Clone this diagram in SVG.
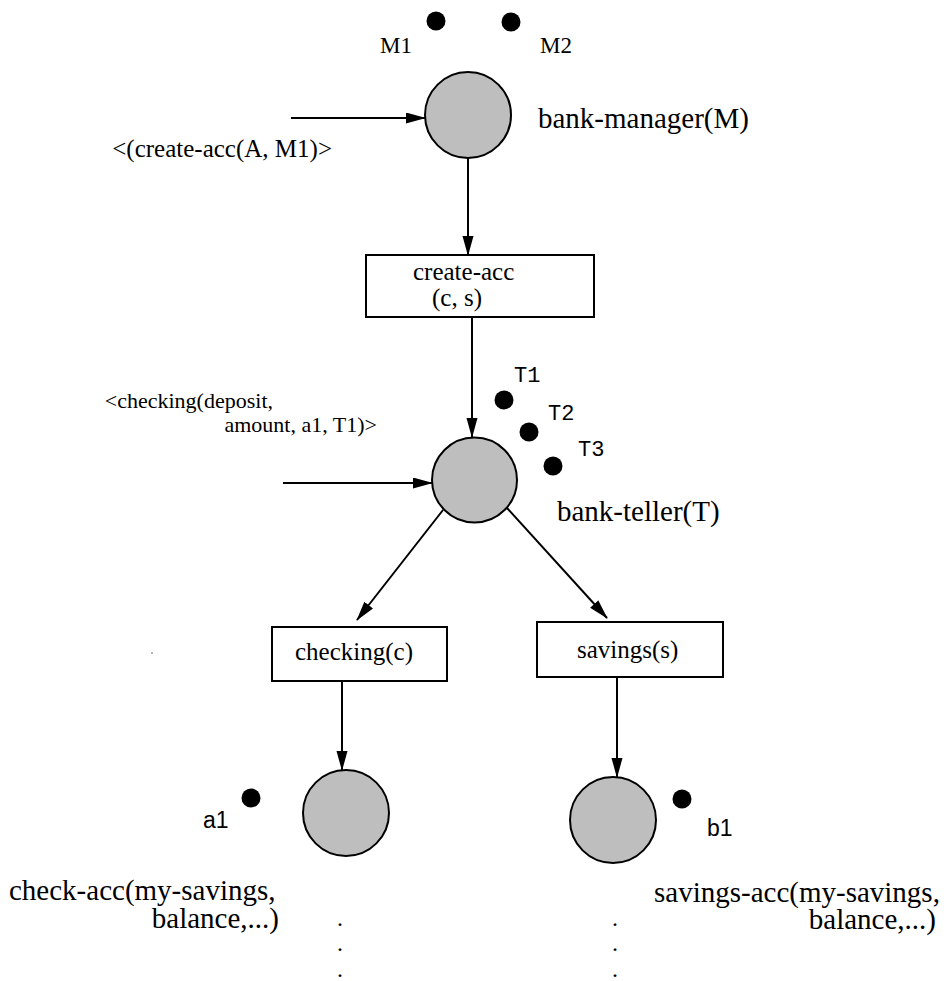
<svg xmlns="http://www.w3.org/2000/svg" width="950" height="981" viewBox="0 0 950 981">
<style>
.bg{fill:#ffffff}
.place{fill:#bebebe;stroke:#000;stroke-width:2}
.tok{fill:#000}
.box{fill:#fff;stroke:#000;stroke-width:2}
.edge{stroke:#000;stroke-width:2;fill:none;marker-end:url(#ah)}
.serif{font-family:"Liberation Serif","Times New Roman",serif;fill:#000}
.mono{font-family:"Liberation Mono","Courier New",monospace;fill:#000}
.sans{font-family:"Liberation Sans",Arial,sans-serif;fill:#000}
.big{font-size:29px}
.mid{font-size:25px}
</style>
<defs>
<marker id="ah" markerUnits="userSpaceOnUse" markerWidth="20" markerHeight="12" refX="19" refY="5.5" orient="auto">
<path d="M0,0 L20,5.5 L0,11 z" fill="#000"/>
</marker>
</defs>
<rect class="bg" x="0" y="0" width="950" height="981"/>

<g id="connectors">
<line class="edge" x1="291" y1="118" x2="425" y2="118"/>
<line class="edge" x1="468" y1="158" x2="468" y2="255"/>
<line class="edge" x1="472" y1="317" x2="472" y2="437"/>
<line class="edge" x1="283" y1="483" x2="432" y2="483"/>
<line class="edge" x1="443" y1="510" x2="357" y2="620"/>
<line class="edge" x1="507" y1="508" x2="607" y2="618"/>
<line class="edge" x1="342" y1="681" x2="342" y2="770"/>
<line class="edge" x1="617" y1="677" x2="617" y2="777"/>
<text class="serif mid" x="332" y="157" text-anchor="end">&lt;(create-acc(A, M1)&gt;</text>
<text class="serif" font-size="22" x="273" y="408" text-anchor="end">&lt;checking(deposit,</text>
<text class="serif" font-size="22" x="377" y="432" text-anchor="end">amount, a1, T1)&gt;</text>
</g>

<g id="bank-manager">
<circle class="place" cx="468" cy="115" r="43"/>
<text class="serif big" x="538" y="128">bank-manager(M)</text>
</g>
<g id="token-M1">
<circle class="tok" cx="436" cy="21" r="9.5"/>
<text class="serif" font-size="23" x="380" y="53">M1</text>
</g>
<g id="token-M2">
<circle class="tok" cx="511" cy="22" r="9.5"/>
<text class="serif" font-size="23" x="540" y="53">M2</text>
</g>

<g id="create-acc">
<rect class="box" x="366" y="255" width="228" height="62"/>
<text class="serif mid" x="413" y="280">create-acc</text>
<text class="serif mid" x="432" y="306">(c, s)</text>
</g>

<g id="bank-teller">
<circle class="place" cx="474.5" cy="480" r="42.5"/>
<text class="serif big" x="557" y="521">bank-teller(T)</text>
</g>
<g id="token-T1">
<circle class="tok" cx="504" cy="400" r="9.5"/>
<text class="mono" font-size="22" x="514" y="382">T1</text>
</g>
<g id="token-T2">
<circle class="tok" cx="529" cy="432" r="9.5"/>
<text class="mono" font-size="22" x="548" y="420">T2</text>
</g>
<g id="token-T3">
<circle class="tok" cx="553" cy="466" r="9.5"/>
<text class="mono" font-size="22" x="578" y="456">T3</text>
</g>

<g id="checking">
<rect class="box" x="272" y="627" width="175" height="54"/>
<text class="serif mid" x="295" y="660">checking(c)</text>
</g>
<g id="savings">
<rect class="box" x="537" y="622" width="186" height="55"/>
<text class="serif mid" x="577" y="658">savings(s)</text>
</g>

<g id="check-acc">
<circle class="place" cx="346" cy="813" r="43"/>
<text class="serif big" x="9" y="900">check-acc(my-savings,</text>
<text class="serif big" x="279" y="928" text-anchor="end">balance,...)</text>
<text class="serif" font-size="24" x="337" y="926">.</text>
<text class="serif" font-size="24" x="337" y="951">.</text>
<text class="serif" font-size="24" x="337" y="977">.</text>
</g>
<g id="token-a1">
<circle class="tok" cx="251" cy="798" r="9.5"/>
<text class="sans" font-size="23" x="203" y="828">a1</text>
</g>

<g id="savings-acc">
<circle class="place" cx="613" cy="820" r="43"/>
<text class="serif big" x="654" y="902">savings-acc(my-savings,</text>
<text class="serif big" x="936" y="929" text-anchor="end">balance,...)</text>
<text class="serif" font-size="24" x="612" y="926">.</text>
<text class="serif" font-size="24" x="612" y="951">.</text>
<text class="serif" font-size="24" x="612" y="977">.</text>
</g>
<g id="token-b1">
<circle class="tok" cx="682" cy="799" r="9.5"/>
<text class="sans" font-size="23" x="707" y="836">b1</text>
</g>

<circle cx="152" cy="653" r="1" fill="#999"/>
</svg>
